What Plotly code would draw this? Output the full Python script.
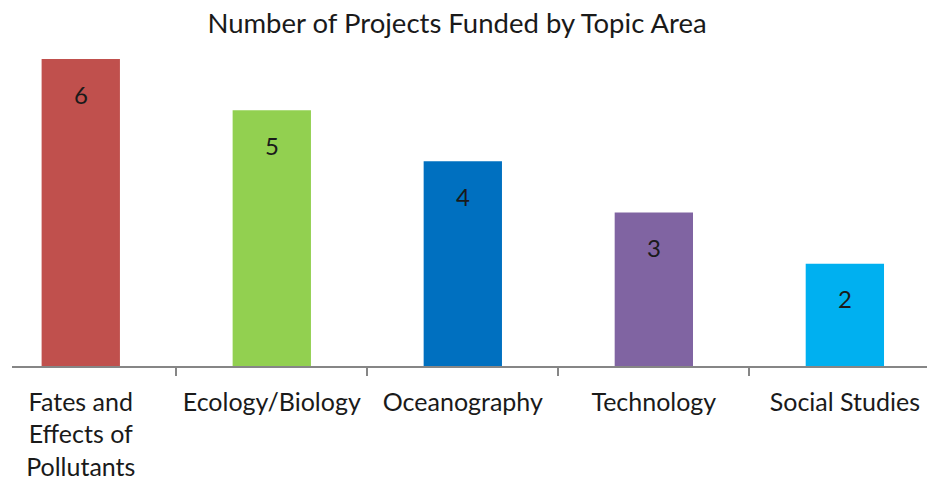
import plotly.graph_objects as go

categories = ["Fates and<br>Effects of<br>Pollutants", "Ecology/Biology", "Oceanography", "Technology", "Social Studies"]
values = [6, 5, 4, 3, 2]
colors = ["#C0504D", "#92D050", "#0070C0", "#8064A2", "#00B0F0"]
title = "Number of Projects Funded by Topic Area"

FONT = "Lato"
W, H = 927, 483

fig = go.Figure()
fig.add_trace(go.Bar(
    x=categories, y=values, marker=dict(color=colors, line=dict(width=0)),
    width=0.41, hoverinfo="skip",
))
for c, v in zip(categories, values):
    fig.add_annotation(x=c, y=v, text=str(v), showarrow=False, yshift=-35,
                       font=dict(family=FONT, size=24, color="#1a1a1a"))

fig.update_layout(
    width=W, height=H,
    margin=dict(l=12, r=0, t=59, b=H - 366, autoexpand=False),
    paper_bgcolor="white", plot_bgcolor="white",
    showlegend=False,
    title=dict(text=title, x=457 / W, xanchor="center", y=1 - 23 / H, yanchor="middle",
               font=dict(family=FONT, size=27.5, color="#1a1a1a"), automargin=False),
)
fig.update_xaxes(
    range=[-0.36, 4.43], showline=True, linecolor="#868686", linewidth=1.5,
    ticks="outside", tickson="boundaries", ticklen=8, tickcolor="#868686", tickwidth=1.5,
    tickfont=dict(family=FONT, size=25, color="#1a1a1a"), showgrid=False,
    ticklabelstandoff=13, tickangle=0, automargin=False,
)
fig.update_yaxes(range=[0, 6], visible=False, showgrid=False, zeroline=False, automargin=False)

fig.write_html("out.html", config={"displayModeBar": False},
               post_script="document.body.style.margin='0';document.body.style.overflow='hidden';")
